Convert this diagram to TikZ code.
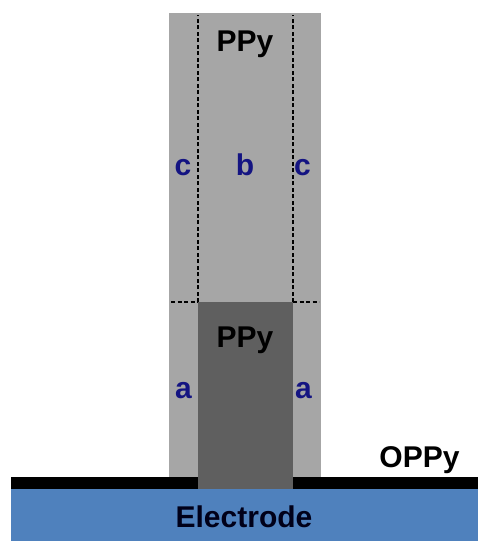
\documentclass[tikz,border=0pt]{standalone}
\usepackage{fontspec}
\setmainfont{Liberation Sans}
\usetikzlibrary{positioning, calc}
\definecolor{ppyLight}{RGB}{166, 166, 166}
\definecolor{ppyDark}{RGB}{95, 95, 95}
\definecolor{electrodeBlue}{RGB}{79, 129, 189}
\definecolor{labelNavy}{RGB}{20, 20, 130}

\begin{document}
\begin{tikzpicture}[
    x=1pt, y=-1pt,
    font=\bfseries\fontsize{30}{34}\selectfont,
    % Estilo base para capas
    layer/.style={
        rectangle,
        draw=none,
        inner sep=0pt,
        outer sep=0pt
    },
    % Estilo para textos (anclados en la linea base)
    tag/.style={
        anchor=base,
        inner sep=0pt
    },
    % Estilo para las etiquetas de zona
    zone/.style={
        tag,
        text=labelNavy
    },
    % Estilo para los bordes punteados
    border/.style={
        dash pattern=on 4pt off 2.5pt,
        line width=1.6pt,
        black
    }
]
    \useasboundingbox (0,0) rectangle (478,541);

    % --- 1. Electrodo y capa OPPy ---
    \node[layer, fill=electrodeBlue, minimum width=467pt, minimum height=52pt] (electrode) at (244.5,515) {};
    \node[tag, text=black!90!blue] (electrode_label) at (244,527) {Electrode};
    \node[layer, fill=black, minimum width=467pt, minimum height=12pt] (oppy_layer) at (244.5,483) {};
    \node[tag] (oppy_label) at (419.5,467) {OPPy};

    % --- 2. Columna de PPy ---
    \node[layer, fill=ppyLight, minimum width=152pt, minimum height=464pt] (column) at (245,245) {};
    \node[layer, fill=ppyDark, minimum width=95pt, minimum height=187pt] (core) at (245.5,395.5) {};

    % Bordes punteados
    \draw[border] (core.north west) -- ($(core.north west |- column.north)+(0,2)$);
    \draw[border] (core.north east) -- ($(core.north east |- column.north)+(0,2)$);
    \draw[border] ($(column.west |- core.north)+(2,0)$) -- (core.north west);
    \draw[border] (core.north east) -- ($(column.east |- core.north)+(-2,0)$);

    % --- 3. Textos ---
    \node[tag] (ppy_top) at (245,51) {PPy};
    \node[tag] (ppy_core) at (245,347) {PPy};
    \node[zone] (zone_c1) at (183,175) {c};
    \node[zone] (zone_b) at (245,175) {b};
    \node[zone] (zone_c2) at (302.5,175) {c};
    \node[zone] (zone_a1) at (183.5,398) {a};
    \node[zone] (zone_a2) at (303.5,398) {a};

\end{tikzpicture}
\end{document}
